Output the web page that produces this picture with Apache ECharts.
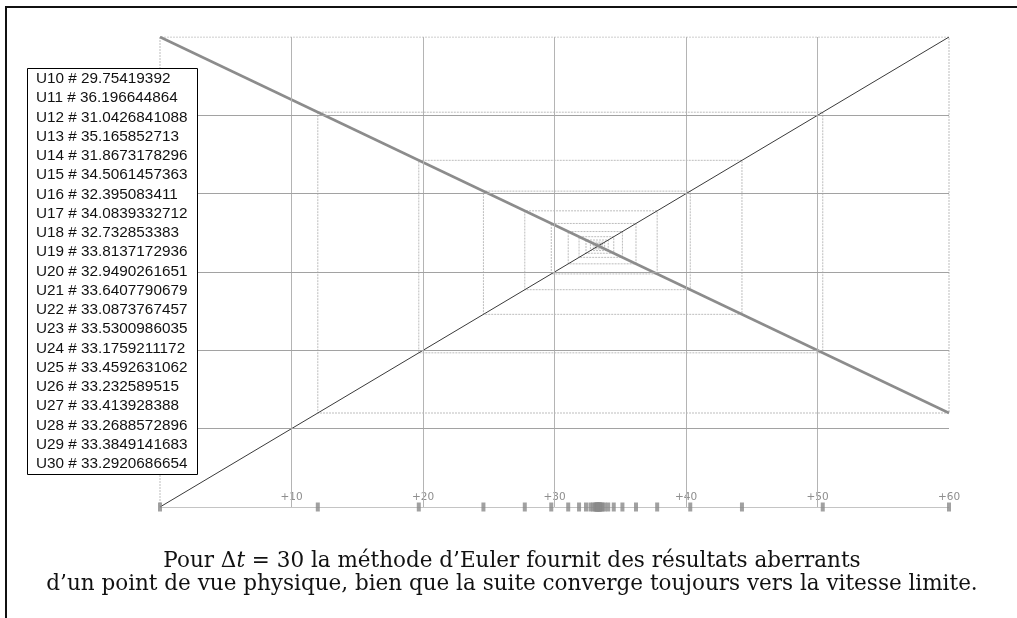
<!DOCTYPE html>
<html>
<head>
<meta charset="utf-8">
<title>Euler - Δt = 30</title>
<script src="https://cdn.jsdelivr.net/npm/echarts@6/dist/echarts.min.js"></script>
<style>
  html, body { margin: 0; padding: 0; background: #fff; }
  #chart { width: 1017px; height: 618px; }
</style>
</head>
<body>
<div id="chart"></div>
<script>
const uFirst = [0, 60, 12, 50.4, 19.68, 44.256, 24.5952, 40.32384, 27.740928, 37.8072576]
// U10..U30, as printed in the box
const uListedStart = 10
const uListed = [
  29.75419392, 36.196644864, 31.0426841088, 35.165852713, 31.8673178296,
  34.5061457363, 32.395083411, 34.0839332712, 32.732853383, 33.8137172936,
  32.9490261651, 33.6407790679, 33.0873767457, 33.5300986035, 33.1759211172,
  33.4592631062, 33.232589515, 33.413928388, 33.2688572896, 33.3849141683,
  33.2920686654
]
// the Euler map u -> u + Δt (g - k u), end points inside the frame
const eulerLine = [[0, 60], [60, 12]]
const diagonal = [[0, 0], [60, 60]]
const gridValues = [10, 20, 30, 40, 50]
const axisMin = 0
const axisMax = 60
const axisStep = 10

const captionLines = [
  'Pour Δ{i|t} = 30 la méthode d’Euler fournit des résultats aberrants',
  'd’un point de vue physique, bien que la suite converge toujours vers la vitesse limite.'
]

const u = uFirst.concat(uListed)

// cobweb: up to the map, across to the diagonal, and so on
const cobweb = [[u[0], 0]]
for (let i = 0; i < u.length - 1; i++) {
  cobweb.push([u[i], u[i + 1]])
  cobweb.push([u[i + 1], u[i + 1]])
}

const chart = echarts.init(document.getElementById('chart'))

const boxX = 27.5
const boxY = 68.5
const rowTop = 79
const rowStep = 19.25
const captionFont = '21.5px "DejaVu Serif", serif'

const boxTexts = uListed.map((v, i) => ({
  type: 'text',
  x: 36,
  y: rowTop + i * rowStep,
  z: 101,
  style: {
    text: 'U' + (uListedStart + i) + ' # ' + v,
    fill: '#111',
    font: '15.3px "Liberation Sans", Arial, sans-serif',
    verticalAlign: 'middle'
  }
}))

const option = {
  animation: false,
  backgroundColor: '#fff',
  grid: { left: 160, right: 68, top: 37, bottom: 111 },
  xAxis: {
    type: 'value',
    min: axisMin,
    max: axisMax,
    interval: axisStep,
    splitLine: { show: false },
    axisTick: { show: false },
    axisLine: { show: true, lineStyle: { color: '#c4c4c4', width: 1 } },
    axisLabel: {
      inside: true,
      margin: 4,
      color: '#8e8e8e',
      fontSize: 10.5,
      fontFamily: 'DejaVu Sans',
      formatter: (v) => (v === 0 ? '' : '+' + v)
    }
  },
  yAxis: {
    type: 'value',
    min: axisMin,
    max: axisMax,
    interval: axisStep,
    axisLine: { show: false },
    axisTick: { show: false },
    axisLabel: { show: false },
    splitLine: { show: false }
  },
  series: [
    {
      name: 'grille',
      type: 'line',
      data: [],
      silent: true,
      z: 1,
      markLine: {
        silent: true,
        symbol: 'none',
        label: { show: false },
        animation: false,
        data: gridValues.map((v) => ({ xAxis: v, lineStyle: { color: '#b4b4b4', width: 1, type: 'solid' } }))
          .concat(gridValues.map((v) => ({ yAxis: v, lineStyle: { color: '#a2a2a2', width: 1, type: 'solid' } })))
      }
    },
    {
      name: 'toile',
      type: 'line',
      data: cobweb,
      symbol: 'none',
      silent: true,
      z: 2,
      lineStyle: { color: '#bdbdbd', width: 1, type: [2, 1] }
    },
    {
      name: 'diagonale',
      type: 'line',
      data: diagonal,
      symbol: 'none',
      silent: true,
      z: 3,
      lineStyle: { color: '#3a3a3a', width: 1 }
    },
    {
      name: 'euler',
      type: 'line',
      data: eulerLine,
      symbol: 'none',
      silent: true,
      z: 4,
      lineStyle: { color: '#8c8c8c', width: 2.5 }
    },
    {
      name: 'termes',
      type: 'scatter',
      data: u.map((v) => [v, 0]),
      symbol: 'rect',
      symbolSize: [4, 9],
      silent: true,
      clip: false,
      z: 5,
      itemStyle: { color: '#8a8a8a' }
    }
  ],
  graphic: [
    {
      type: 'polyline',
      z: 100,
      shape: { points: [[6, 618], [6, 7], [1017, 7]] },
      style: { stroke: '#111', lineWidth: 2, fill: null }
    },
    {
      type: 'rect',
      z: 100,
      shape: { x: boxX, y: boxY, width: 170, height: 406 },
      style: { fill: '#fff', stroke: '#000', lineWidth: 1 }
    },
    ...boxTexts,
    {
      type: 'text',
      x: 512,
      y: 561,
      z: 100,
      style: {
        text: captionLines[0],
        fill: '#111',
        font: captionFont,
        align: 'center',
        verticalAlign: 'middle',
        rich: { i: { font: 'italic ' + captionFont } }
      }
    },
    {
      type: 'text',
      x: 512,
      y: 584,
      z: 100,
      style: {
        text: captionLines[1],
        fill: '#111',
        font: captionFont,
        align: 'center',
        verticalAlign: 'middle'
      }
    }
  ]
}

chart.setOption(option)
</script>
</body>
</html>
